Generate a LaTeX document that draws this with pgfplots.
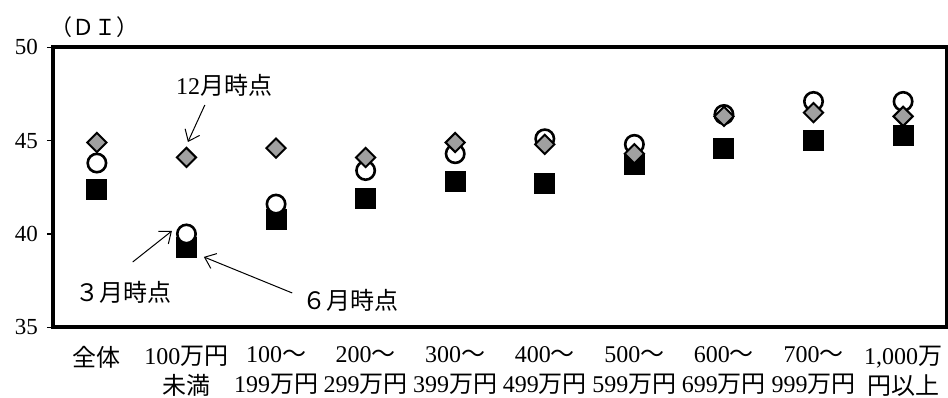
\documentclass[border=0pt]{standalone}
\usepackage{fontspec}
\setmainfont{Liberation Serif}
\newfontfamily\cjk{Noto Sans CJK JP}
\usepackage{pgfplots}
\pgfplotsset{compat=1.18}
\usetikzlibrary{arrows.meta}
\newcommand{\J}[1]{{\cjk #1}}
\definecolor{dgray}{RGB}{160,160,160}

\begin{document}
\begin{tikzpicture}
\begin{axis}[
  scale only axis, width=447pt, height=140pt,
  xmin=-0.49, xmax=9.49, ymin=35, ymax=50,
  ytick={35,40,45,50},
  xtick={0,...,9},
  xticklabels={{\J{全体}},{100\J{万円}\\\J{未満}},{100\J{～}\\199\J{万円}},{200\J{～}\\299\J{万円}},{300\J{～}\\399\J{万円}},{400\J{～}\\499\J{万円}},{500\J{～}\\599\J{万円}},{600\J{～}\\699\J{万円}},{700\J{～}\\999\J{万円}},{1,000\J{万}\\\J{円以上}}},
  xtick style={draw=none},
  ytick pos=left,
  ytick style={black, line width=0.6pt},
  tick align=outside, major tick length=3pt,
  axis line style={line width=2pt},
  clip=false,
  /pgf/number format/assume math mode=true,
  yticklabel style={font=\fontsize{11.5}{13}\selectfont, xshift=-1pt},
  xticklabel style={font=\fontsize{12}{15}\selectfont, align=center, anchor=north, yshift=-3pt},
]
\addplot[only marks, mark=square*, mark size=5pt, mark options={fill=black, draw=black, line width=0pt}]
 coordinates {(0,42.4)(1,39.3)(2,40.8)(3,41.9)(4,42.8)(5,42.7)(6,43.7)(7,44.6)(8,45.0)(9,45.3)};
\addplot[only marks, mark=*, mark size=4.6pt, mark options={fill=white, draw=black, line width=1.3pt}]
 coordinates {(0,43.8)(1,40.0)(2,41.6)(3,43.4)(4,44.3)(5,45.1)(6,44.8)(7,46.4)(8,47.1)(9,47.1)};
\addplot[only marks, mark=square*, mark size=3.4pt, mark options={fill=dgray, draw=black, line width=1pt, rotate=45}]
 coordinates {(0,44.9)(1,44.1)(2,44.6)(3,44.1)(4,44.9)(5,44.8)(6,44.3)(7,46.3)(8,46.5)(9,46.3)};

\node[font=\fontsize{12}{14}\selectfont] at (axis cs:1.42,47.98) {12\J{月時点}};
\node[font=\fontsize{12}{14}\selectfont] at (axis cs:0.30,36.89) {\J{３月時点}};
\node[font=\fontsize{12}{14}\selectfont] at (axis cs:2.83,36.46) {\J{６月時点}};
\draw[line width=0.5pt, -{Straight Barb[length=5pt, width=8pt]}] (axis cs:1.205,46.91) -- (axis cs:1.016,44.93);
\draw[line width=0.5pt, -{Straight Barb[length=5pt, width=8pt]}] (axis cs:0.40,38.50) -- (axis cs:0.837,40.16);
\draw[line width=0.5pt, -{Straight Barb[length=5pt, width=8pt]}] (axis cs:2.18,36.84) -- (axis cs:1.194,38.77);
\node[font=\fontsize{11}{13}\selectfont] at (axis cs:-0.03,51.08) {\J{（ＤＩ）}};
\end{axis}
\pgfresetboundingbox
\path[use as bounding box] ([shift={(-26.5pt,-34.85pt)}]current axis.south west) rectangle ([shift={(447.5pt,163.65pt)}]current axis.south west);
\end{tikzpicture}
\end{document}
